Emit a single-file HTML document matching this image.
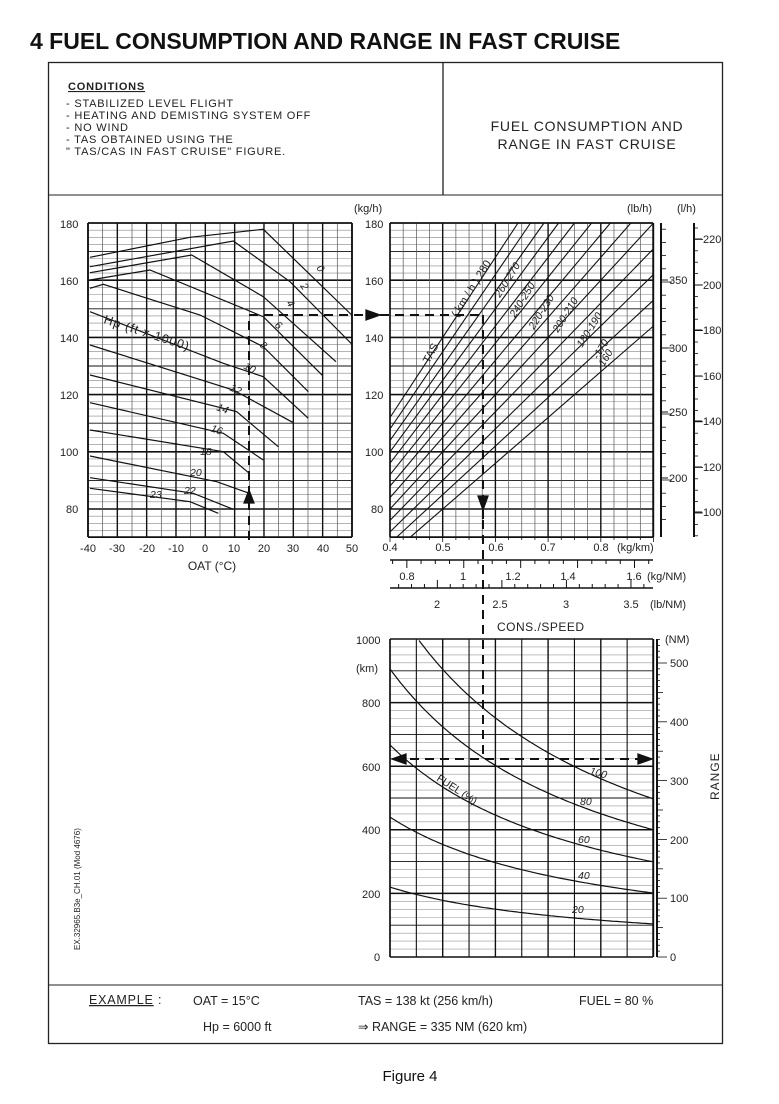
<!DOCTYPE html>
<html><head><meta charset="utf-8"><style>
html,body{margin:0;padding:0;background:#fff;}
svg{display:block;font-family:"Liberation Sans",Arial,sans-serif;}
</style></head><body>
<svg id="s" width="779" height="1104" viewBox="0 0 779 1104" xmlns="http://www.w3.org/2000/svg">
<rect width="779" height="1104" fill="#fff"/>
<text x="30" y="49" font-size="23" font-weight="bold" fill="#111">4 FUEL CONSUMPTION AND RANGE IN FAST CRUISE</text>
<rect x="48.5" y="62.5" width="674" height="981" fill="none" stroke="#222" stroke-width="1.3"/>
<line x1="443" y1="62" x2="443" y2="195" stroke="#222" stroke-width="1.3"/>
<line x1="48" y1="195" x2="722" y2="195" stroke="#222" stroke-width="1"/>
<g font-size="11" fill="#222" letter-spacing="0.8">
<text x="68" y="90" font-weight="bold" text-decoration="underline">CONDITIONS</text>
<text x="66" y="107">- STABILIZED LEVEL FLIGHT</text>
<text x="66" y="119">- HEATING AND DEMISTING SYSTEM OFF</text>
<text x="66" y="131">- NO WIND</text>
<text x="66" y="143">- TAS OBTAINED USING THE</text>
<text x="66" y="155">  " TAS/CAS IN FAST CRUISE" FIGURE.</text>
</g>
<g font-size="14" fill="#222" letter-spacing="0.8" text-anchor="middle">
<text x="587" y="131">FUEL CONSUMPTION AND</text>
<text x="587" y="149">RANGE IN FAST CRUISE</text>
</g>
<g id="grid"></g>
<g id="curves" fill="none" stroke="#111" stroke-width="1.3"></g>
<g font-size="11" fill="#222">
<text x="60" y="228">180</text><text x="60" y="285">160</text><text x="60" y="342">140</text>
<text x="60" y="399">120</text><text x="60" y="456">100</text><text x="66" y="513">80</text>
<text x="365" y="228">180</text><text x="365" y="285">160</text><text x="365" y="342">140</text>
<text x="365" y="399">120</text><text x="365" y="456">100</text><text x="371" y="513">80</text>
<text x="354" y="212">(kg/h)</text>
<text x="627" y="212">(lb/h)</text><text x="677" y="212">(l/h)</text>
<g text-anchor="middle">
<text x="88" y="552">-40</text><text x="117" y="552">-30</text><text x="147" y="552">-20</text><text x="176" y="552">-10</text>
<text x="205" y="552">0</text><text x="234" y="552">10</text><text x="264" y="552">20</text><text x="293" y="552">30</text>
<text x="323" y="552">40</text><text x="352" y="552">50</text>
<text x="212" y="570" font-size="12">OAT (°C)</text>
<text x="390" y="551">0.4</text><text x="443" y="551">0.5</text><text x="496" y="551">0.6</text><text x="548" y="551">0.7</text><text x="601" y="551">0.8</text>
<text x="407" y="580">0.8</text><text x="463" y="580">1</text><text x="513" y="580">1.2</text><text x="568" y="580">1.4</text><text x="634" y="580">1.6</text>
<text x="437" y="608">2</text><text x="500" y="608">2.5</text><text x="566" y="608">3</text><text x="631" y="608">3.5</text>
</g>
<text x="617" y="551">(kg/km)</text>
<text x="647" y="580">(kg/NM)</text>
<text x="650" y="608">(lb/NM)</text>
<text x="497" y="631" font-size="12" letter-spacing="0.5">CONS./SPEED</text>
<text x="356" y="644">1000</text><text x="356" y="672">(km)</text><text x="362" y="707">800</text>
<text x="362" y="771">600</text><text x="362" y="834">400</text><text x="362" y="898">200</text><text x="374" y="961">0</text>
<text x="665" y="643">(NM)</text>
<text x="670" y="667">500</text><text x="670" y="726">400</text><text x="670" y="785">300</text>
<text x="670" y="844">200</text><text x="670" y="902">100</text><text x="670" y="961">0</text>
<text transform="translate(719,800) rotate(-90)" font-size="12" letter-spacing="1">RANGE</text>
<text transform="translate(80,950) rotate(-90)" font-size="8">EX.32965.B3e_CH.01 (Mod 4676)</text>
</g>
<g font-size="10.5" fill="#222" font-style="italic">
<text transform="translate(316,268) rotate(55)">0</text>
<text transform="translate(300,286) rotate(55)">2</text>
<text transform="translate(286,303) rotate(55)">4</text>
<text transform="translate(274,326) rotate(40)">6</text>
<text transform="translate(259,346) rotate(40)">8</text>
<text transform="translate(243,368) rotate(30)">10</text>
<text transform="translate(229,390) rotate(25)">12</text>
<text transform="translate(216,410) rotate(20)">14</text>
<text transform="translate(210,431) rotate(20)">16</text>
<text transform="translate(200,455)">18</text>
<text transform="translate(190,476)">20</text>
<text transform="translate(184,494)">22</text>
<text transform="translate(150,498)">23</text>
<text transform="translate(103,323) rotate(18)" font-size="12.5" font-style="normal" letter-spacing="1">Hp (ft x 1000)</text>
<text transform="translate(429,364) rotate(-62)" font-style="normal" font-size="11">TAS</text>
<text transform="translate(457,318) rotate(-58)" font-style="normal" font-size="11">( km / h ) 280</text>
<text transform="translate(500,298) rotate(-58)">260-270</text>
<text transform="translate(515,318) rotate(-58)">240-250</text>
<text transform="translate(534,330) rotate(-58)">220-230</text>
<text transform="translate(558,333) rotate(-58)">200-210</text>
<text transform="translate(582,348) rotate(-58)">180-190</text>
<text transform="translate(598,360) rotate(-58)">-170</text>
<text transform="translate(602,370) rotate(-58)">-160</text>
<text transform="translate(436,780) rotate(33)" font-style="normal">FUEL (%)</text>
<text transform="translate(589,774) rotate(15)">100</text>
<text x="580" y="805">80</text><text x="578" y="843">60</text><text x="578" y="879">40</text><text x="572" y="913">20</text>
</g>
<line x1="48" y1="985" x2="722" y2="985" stroke="#222" stroke-width="1"/>
<g font-size="12.5" fill="#222">
<text x="89" y="1004" text-decoration="underline" letter-spacing="0.8">EXAMPLE</text><text x="158" y="1004">:</text>
<text x="193" y="1005">OAT = 15°C</text>
<text x="203" y="1031">Hp = 6000 ft</text>
<text x="358" y="1005">TAS = 138 kt (256 km/h)</text>
<text x="579" y="1005">FUEL = 80 %</text>
<text x="358" y="1031">⇒ RANGE = 335 NM (620 km)</text>
</g>
<text x="410" y="1081" font-size="15" fill="#111" text-anchor="middle">Figure 4</text>
</svg>
<script>
(function(){
var NS="http://www.w3.org/2000/svg",G=document.getElementById('grid'),C=document.getElementById('curves');
function L(x1,y1,x2,y2,w,c,d,p){var e=document.createElementNS(NS,'line');e.setAttribute('x1',x1);e.setAttribute('y1',y1);e.setAttribute('x2',x2);e.setAttribute('y2',y2);e.setAttribute('stroke',c||'#111');e.setAttribute('stroke-width',w);if(d)e.setAttribute('stroke-dasharray',d);(p||G).appendChild(e);}
function P(pts,p,w){var e=document.createElementNS(NS,'polyline');e.setAttribute('points',pts.map(function(a){return a[0].toFixed(1)+','+a[1].toFixed(1)}).join(' '));e.setAttribute('fill','none');e.setAttribute('stroke','#111');e.setAttribute('stroke-width',w||1.3);(p||C).appendChild(e);}
function T(pts,c){var e=document.createElementNS(NS,'polygon');e.setAttribute('points',pts);e.setAttribute('fill','#111');(c||C).appendChild(e);}
function ty(v){return 509-(v-80)*2.86;}
var ytop=ty(180),bot=537;
for(var v=70;v<=180;v+=2.5){var k=Math.round(v*10)%200==0,m=Math.round(v*10)%100==0;L(88,ty(v),352,ty(v),k?1.6:(m?0.9:0.6),k||m?'#111':'#888');}
for(var t=-40;t<=50;t+=5){var x=88+(t+40)*2.933;L(x,ytop,x,bot,t%10==0?1.4:0.7,t%10==0?'#111':'#555');}
L(88,ytop,88,bot,1.8);L(352,ytop,352,bot,1.8);L(88,bot,352,bot,1.5);L(88,ytop,352,ytop,1.5);
function kx(c){return 390+(c-0.4)*527;}
for(var v=70;v<=180;v+=2.5){var k=Math.round(v*10)%200==0,m=Math.round(v*10)%100==0;L(390,ty(v),653,ty(v),k?1.6:(m?0.9:0.6),k||m?'#111':'#888');}
for(var i=0;i<=20;i++){var c=0.4+i*0.025,x=kx(c);if(x>654)continue;L(x,ytop,x,bot,i%4==0?1.4:0.7,i%4==0?'#111':'#555');}
L(390,ytop,653,ytop,1.5);L(390,bot,653,bot,1.5);L(390,ytop,390,bot,1.5);L(653,ytop,653,bot,1.5);
L(661,ytop,661,bot,2);
for(var lb=170;lb<=395;lb+=10){var y=348-(lb-300)*1.32;if(y<ytop||y>bot)continue;L(661,y,lb%50==0?672:666,y,0.8);}
L(694,ytop,694,bot,2);
for(var lh=90;lh<=225;lh+=5){var y=285-(lh-200)*2.28;if(y<ytop||y>bot)continue;L(694,y,lh%20==0?703:698,y,0.8);}
var g=document.createElementNS(NS,'g');g.setAttribute('font-size','11');g.setAttribute('fill','#222');document.getElementById('s').appendChild(g);
function TX(x,y,s){var e=document.createElementNS(NS,'text');e.setAttribute('x',x);e.setAttribute('y',y);e.textContent=s;g.appendChild(e);}
[[350,280],[300,348],[250,412],[200,478]].forEach(function(a){L(661,a[1],668,a[1],1);TX(669,a[1]+4,a[0]);});
[[220,239],[200,285],[180,330],[160,376],[140,421],[120,467],[100,512]].forEach(function(a){L(694,a[1],702,a[1],1);TX(703,a[1]+4,a[0]);});
for(var i=0;i<=20;i++){var x=kx(0.4+i*0.025);if(x>654)continue;L(x,bot,x,bot+(i%4==0?5:3),0.8);}
L(390,560,653,560,1.6);
for(var n=0.75;n<=1.7;n+=0.05){var x=kx(n/1.852);if(x>653)continue;var mj=Math.abs(n*10-Math.round(n*10))<0.01&&Math.round(n*10)%2==0;L(x,560,x,560+(mj?8:4),1);}
L(390,588,653,588,1.6);
for(var n=1.7;n<=3.75;n+=0.1){var x=kx(n*0.4536/1.852);if(x<390||x>653)continue;var mj=Math.abs(n*2-Math.round(n*2))<0.01;L(x,588,x,588-(mj?8:4),1);}
function Z(a){return a.map(function(p){return [50+p[0]/3,200+p[1]/3];});}
var hp=[
[[120,172],[420,112],[640,88],[905,345]],
[[120,200],[550,123],[720,245],[905,432]],
[[120,218],[425,165],[640,290],[858,485]],
[[120,240],[300,210],[640,350],[818,527]],
[[120,265],[160,253],[450,345],[640,440],[775,575]],
[[120,335],[520,490],[640,530],[775,655]],
[[120,435],[550,570],[730,668]],
[[120,525],[560,635],[685,740]],
[[120,608],[520,700],[640,780]],
[[120,690],[520,755],[598,820]],
[[120,768],[500,845],[598,880]],
[[120,833],[430,880],[550,928]],
[[120,865],[420,905],[505,940]]];
hp.forEach(function(a){P(Z(a),C,1.2);});
for(var tas=160;tas<=280;tas+=10){
 var v0=Math.max(70,0.4*tas),v1=Math.min(180,0.9*tas);
 P([[kx(v0/tas),ty(v0)],[kx(v1/tas),ty(v1)]],C,1.1);}
function ry(r){return 957-r*0.318;}
var bt=ry(1000),bb=957;
for(var r=0;r<=1000;r+=25){var k=r%200==0,m=r%100==0;L(390,ry(r),653,ry(r),k?1.5:(m?0.9:0.6),k||m?'#111':'#999');}
for(var i=0;i<=10;i++){var x=kx(0.4+i*0.05);if(x>654)continue;L(x,bt,x,bb,i%2==0?1.4:1.1);}
L(653,bt,653,bb,1.5);L(390,bt,390,bb,1.5);
L(657,bt,657,bb,2);
for(var nm=0;nm<=540;nm+=10){var y=957-nm*0.588;if(y<bt-2)continue;L(657,y,nm%100==0?667:(nm%50==0?663:660),y,0.8);}
[[458.7,-12.7],[364.3,-4.8],[265,4.6],[172,10],[83.5,11.2]].forEach(function(f){var pts=[];
 for(var j=0;j<=100;j++){var c=0.4+j*0.005;var r=f[0]/c+f[1];if(r>1000)continue;pts.push([kx(c),ry(r)]);}P(pts,C,1.2);});
var D='9,6';
L(249,540,249,317,2,'#111',D,C);T('244,503 254,503 249,490');
L(249,315,378,315,2,'#111',D,C);T('366,310 366,320 380,315');
L(380,315,483,315,2,'#111',D,C);
L(483,315,483,520,2,'#111',D,C);T('478,496 488,496 483,510');
L(483,520,483,760,2,'#111',D,C);
L(395,759,648,759,2,'#111',D,C);T('392,759 406,754 406,764');T('652,759 638,754 638,764');
})();
</script>
</body></html>
